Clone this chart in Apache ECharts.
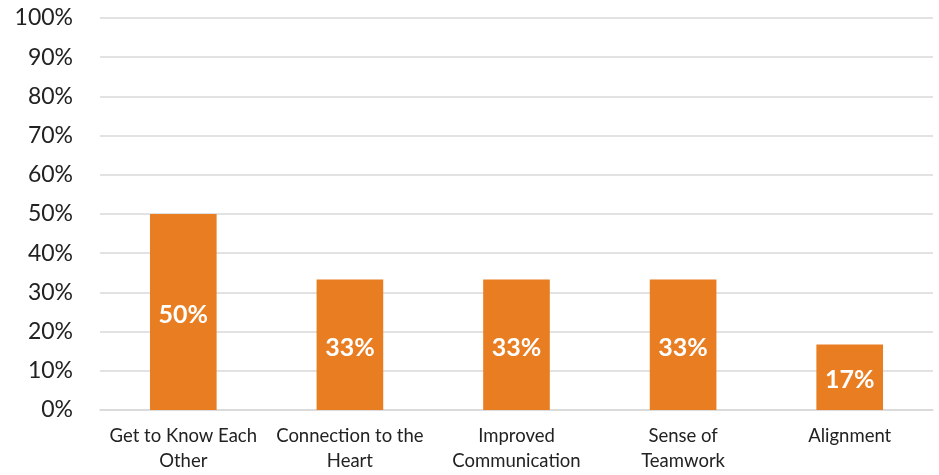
<!DOCTYPE html>
<html>
<head>
<meta charset="utf-8">
<script src="https://cdn.jsdelivr.net/npm/echarts@6/dist/echarts.min.js"></script>
<style>
html,body{margin:0;padding:0;background:#fff;}
#chart{width:939px;height:475px;}
</style>
</head>
<body>
<div id="chart"></div>
<script>
const categories = ["Get to Know Each Other", "Connection to the Heart", "Improved Communication", "Sense of Teamwork", "Alignment"];
const tickLabels = ["Get to Know Each\nOther", "Connection to the\nHeart", "Improved\nCommunication", "Sense of\nTeamwork", "Alignment"];
const values = [50, 33.3, 33.3, 33.3, 16.7];
const yTicks = [0, 10, 20, 30, 40, 50, 60, 70, 80, 90, 100];

const chart = echarts.init(document.getElementById('chart'));
const font = 'Lato, "Open Sans", sans-serif';
chart.setOption({
  animation: false,
  grid: { left: 100, right: 6, top: 18, bottom: 65, containLabel: false },
  xAxis: {
    type: 'category',
    data: categories,
    axisLine: { show: true, lineStyle: { color: '#D9D9D9', width: 1.5 } },
    axisTick: { show: false },
    axisLabel: {
      interval: 0,
      color: '#222',
      fontFamily: font,
      fontSize: 18.5,
      lineHeight: 25,
      margin: 14,
      formatter: (v, i) => tickLabels[i]
    }
  },
  yAxis: {
    type: 'value',
    min: yTicks[0],
    max: yTicks[yTicks.length - 1],
    interval: 10,
    axisLine: { show: false },
    axisTick: { show: false },
    splitLine: { lineStyle: { color: '#D9D9D9', width: 1.5 } },
    axisLabel: {
      color: '#222',
      fontFamily: font,
      fontSize: 23,
      margin: 27,
      formatter: v => v + '%'
    }
  },
  series: [{
    type: 'bar',
    data: values,
    barWidth: '40%',
    itemStyle: { color: '#E97D22' },
    label: {
      show: true,
      position: 'inside',
      offset: [0, 3],
      color: '#fff',
      fontFamily: font,
      fontWeight: 'bold',
      fontSize: 25,
      formatter: p => Math.round(p.value) + '%'
    }
  }]
});
</script>
</body>
</html>
